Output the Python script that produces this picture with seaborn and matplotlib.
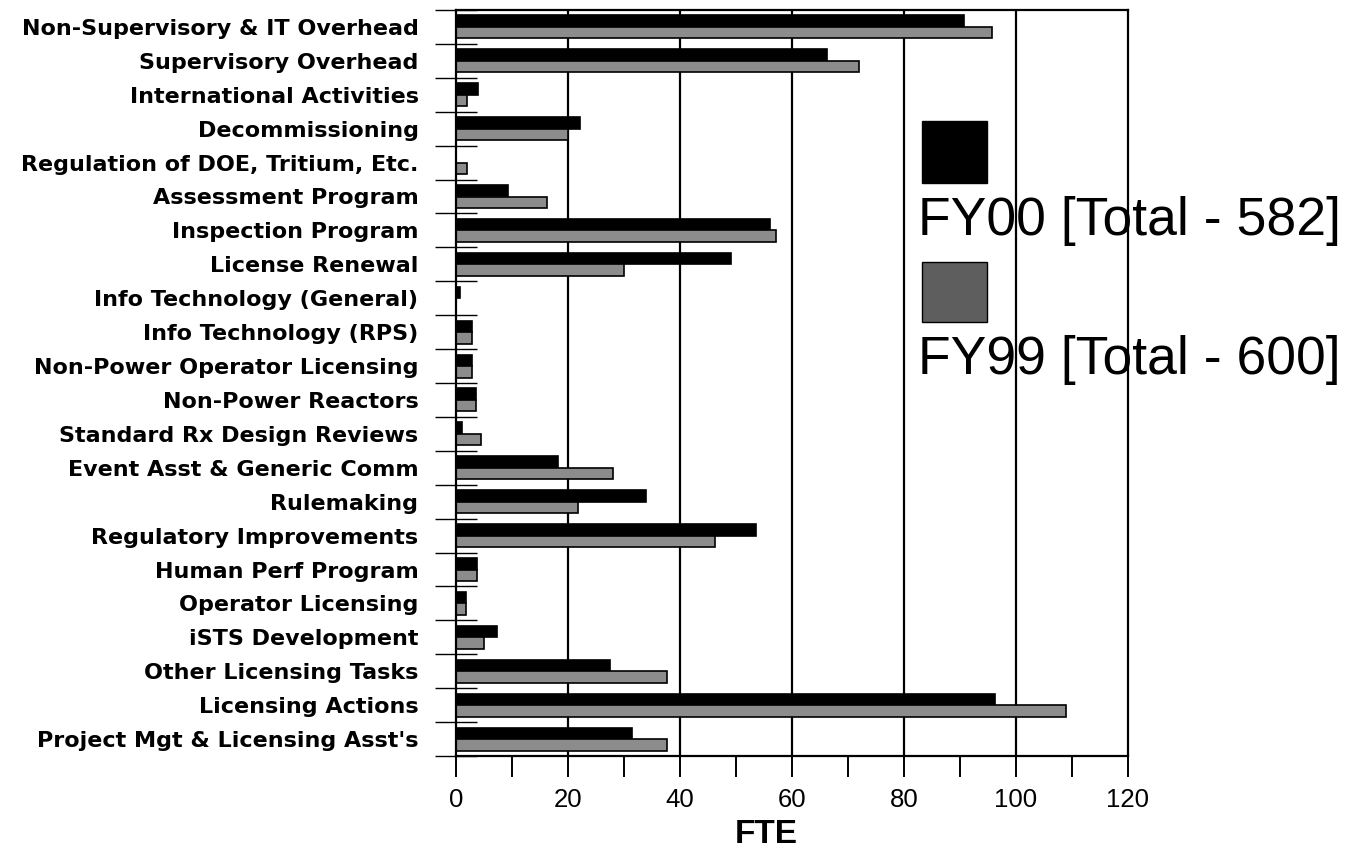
import matplotlib
matplotlib.use("Agg")
import matplotlib.pyplot as plt
import seaborn as sns
import pandas as pd
from matplotlib.patches import Rectangle

categories = [
    "Non-Supervisory & IT Overhead", "Supervisory Overhead", "International Activities",
    "Decommissioning", "Regulation of DOE, Tritium, Etc.", "Assessment Program",
    "Inspection Program", "License Renewal", "Info Technology (General)",
    "Info Technology (RPS)", "Non-Power Operator Licensing", "Non-Power Reactors",
    "Standard Rx Design Reviews", "Event Asst & Generic Comm", "Rulemaking",
    "Regulatory Improvements", "Human Perf Program", "Operator Licensing",
    "iSTS Development", "Other Licensing Tasks", "Licensing Actions",
    "Project Mgt & Licensing Asst's",
]
fy00 = [90.7, 66.2, 4.0, 22.2, 0.0, 9.2, 56.1, 49.1, 0.8, 2.9, 2.9, 3.6, 1.1,
        18.3, 33.9, 53.5, 3.7, 1.8, 7.3, 27.5, 96.3, 31.4]
fy99 = [95.8, 72.0, 2.0, 20.0, 2.0, 16.2, 57.1, 30.0, 0.0, 2.9, 2.9, 3.6, 4.5,
        28.1, 21.8, 46.3, 3.7, 1.8, 5.0, 37.7, 109.0, 37.7]
series = ["FY00 [Total - 582]", "FY99 [Total - 600]"]
x_ticks = [0, 20, 40, 60, 80, 100, 120]

df = pd.DataFrame({
    "Category": categories * 2,
    "FTE": fy00 + fy99,
    "Series": [series[0]] * len(categories) + [series[1]] * len(categories),
})

sns.set_style("white")
plt.rcParams["font.family"] = ["Liberation Sans", "DejaVu Sans"]
for k in ["text.color", "axes.labelcolor", "xtick.color", "ytick.color"]:
    plt.rcParams[k] = "black"

BAR_GRAY = "#8c8c8c"

fig = plt.figure(figsize=(13.52, 8.48), dpi=100)
ax = fig.add_axes([456 / 1352, 1 - 756 / 848, 672 / 1352, 746 / 848])

sns.barplot(data=df, y="Category", x="FTE", hue="Series", order=categories,
            hue_order=series, palette=["#000000", BAR_GRAY], orient="h",
            width=0.68, edgecolor="black", linewidth=1.2, ax=ax, legend=False,
            zorder=4)

ax.set_xlim(0, 120)
ax.set_ylim(len(categories) - 0.5, -0.5)
for v in x_ticks[1:-1]:
    ax.axvline(v, color="black", lw=1.6, zorder=3)

for s in ax.spines.values():
    s.set_visible(True)
    s.set_color("black")
    s.set_linewidth(1.6)
    s.set_zorder(6)

# x ticks
ax.set_xticks(x_ticks)
ax.set_xticklabels([str(t) for t in x_ticks], fontsize=18.5)
ax.set_xticks([10, 30, 50, 70, 90, 110], minor=True)
ax.tick_params(axis="x", which="both", direction="out", length=15, width=1.4,
               color="black", pad=8, bottom=True)

# y ticks: boundaries as major, labels on minor
n = len(categories)
ax.set_yticks([i - 0.5 for i in range(n + 1)])
ax.set_yticklabels([""] * (n + 1))
ax.set_yticks(list(range(n)), minor=True)
ax.set_yticklabels(categories, minor=True, fontsize=16, fontweight="bold",
                   family=["DejaVu Sans"])
ax.tick_params(axis="y", which="major", direction="inout", length=30, width=1.0,
               color="black", left=True)
ax.tick_params(axis="y", which="minor", length=0, pad=27, left=True)

ax.set_ylabel("")
ax.set_xlabel("FTE", fontsize=24, fontweight="bold")
ax.xaxis.set_label_coords((766 - 456) / 672, -0.084)
ax.xaxis.label.set_verticalalignment("top")

# legend drawn manually (squares above labels)
ax.add_patch(Rectangle((0.693, 0.7686), 0.0967, 0.0824, transform=ax.transAxes,
                       facecolor="#000000", edgecolor="black", clip_on=False, zorder=2))
ax.add_patch(Rectangle((0.693, 0.5824), 0.0967, 0.0798, transform=ax.transAxes,
                       facecolor="#5e5e5e", edgecolor="black", clip_on=False, zorder=2))
ax.text(0.687, 0.698, series[0], transform=ax.transAxes, fontsize=38.5,
        ha="left", va="baseline", clip_on=False, zorder=2)
ax.text(0.687, 0.512, series[1], transform=ax.transAxes, fontsize=38.5,
        ha="left", va="baseline", clip_on=False, zorder=2)

fig.savefig("out.png", dpi=100)
